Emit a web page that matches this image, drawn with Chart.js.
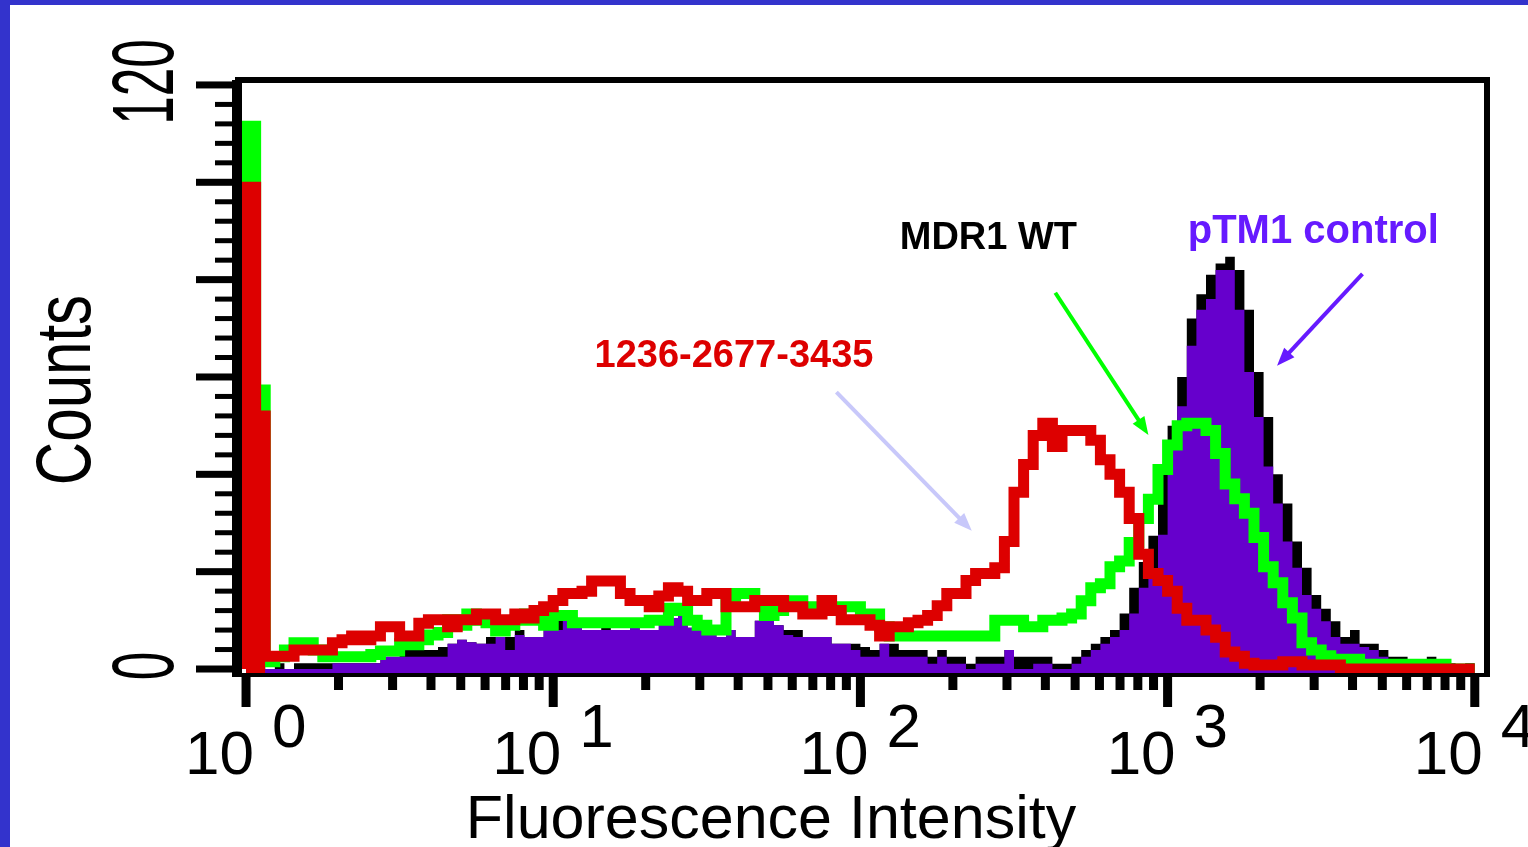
<!DOCTYPE html>
<html>
<head>
<meta charset="utf-8">
<title>Fluorescence Intensity histogram</title>
<script src="https://cdn.jsdelivr.net/npm/chart.js@4.4.1/dist/chart.umd.min.js"></script>
<style>
  html, body { margin: 0; padding: 0; background: #fff; }
  #wrap { position: relative; width: 1528px; height: 847px; overflow: hidden; }
</style>
</head>
<body>
<div id="wrap"><canvas id="chart" width="1528" height="847"></canvas></div>
<script>
// Histogram counts per channel (128 log channels, 32 per decade, 10^0 .. 10^4)
const redCounts = [99, 52, 2.6, 2.6, 2.6, 3.9, 3.9, 3.9, 3.9, 5.4, 6, 6.8, 6, 6.8, 8.7, 8.7,
  6.8, 6.8, 9.4, 10.1, 10.1, 8.7, 10.1, 10.1, 11.3, 11.3, 10.1, 10.1, 11.3, 10.5, 12, 12.8,
  14.1, 15.5, 15.5, 16, 18.1, 18.1, 18.1, 15.5, 14.1, 14.1, 12.8, 15, 16.7, 16, 14.1, 14.1,
  15.5, 15.5, 12.8, 12.8, 12.8, 14.1, 14.1, 14.1, 12.8, 12.8, 11.3, 11.3, 14.1, 12, 10.1, 10.1,
  10.1, 9, 6.8, 8.7, 8.7, 9.5, 10, 11, 13, 15.5, 15.5, 18.2, 19.6, 19.6, 20.8, 26.2,
  36.3, 42, 48, 50.5, 45.7, 49, 49, 49, 47, 43, 40, 36.3, 30.9, 23.6, 19.6, 18.2,
  16, 12.5, 10, 10, 8, 6.5, 3.5, 2.6, 1.2, 0.8, 0.8, 0.8, 1.5, 1.5, 0.8, 0.8,
  0.8, 0.8, 0, 0, 0, 0, 0, 0, 0, 0, 0, 0, 0, 0, 0, 0];

const greenCounts = [111.5, 57.3, 1.5, 2.5, 3.9, 5.4, 5.4, 3.9, 2.5, 2.5, 2.5, 2.5, 2.5, 3, 3.7, 3.7,
  5.2, 5, 6, 7, 7.5, 10.1, 9, 11.3, 10, 9.5, 7.8, 9, 10, 11.3, 10, 9,
  11, 11, 9.5, 9.5, 9.5, 9.5, 9.5, 9.5, 9.5, 9.5, 10, 10, 12.5, 12, 10, 9,
  8, 8, 14, 15.5, 15.5, 13, 11, 12, 14, 14, 12.8, 12, 12, 12, 12.8, 12.8,
  11.3, 11.3, 8.7, 6.8, 6.8, 6.8, 6.8, 6.8, 6.8, 6.8, 6.8, 6.8, 6.8, 6.8, 10, 10,
  10, 8.7, 8.7, 10, 10, 10.5, 11.3, 14, 16.7, 17.5, 21, 22.2, 26, 30.9, 34.9, 41,
  46, 50, 50.5, 50.5, 49, 44.3, 38, 35, 32, 27, 21, 17.7, 13.6, 10.5, 5.4, 3.9,
  2.7, 2, 2, 2, 1, 1, 1, 1, 1, 1, 1, 1, 1, 0, 0, 0];

const purpleCounts = [0, 0, 0, 0, 0, 0, 0, 0, 0, 1.2, 1.2, 1.2, 1.2, 1.2, 2.5, 2.5,
  2.5, 2.5, 2.5, 2.5, 2.5, 5.2, 6, 5.5, 5.2, 5.2, 6.6, 3.9, 7, 6.6, 6.6, 9.9,
  8, 9.9, 9, 8, 8, 8, 8, 8, 9, 8, 8, 9.9, 10.5, 11.3, 8.5, 8,
  7, 6.6, 8, 6.6, 6.6, 9.9, 9.9, 9, 7, 6.6, 6.6, 6.6, 6.6, 5.2, 5.2, 3.9,
  2.5, 2.5, 5.2, 2.5, 2.5, 2.5, 2.5, 1.1, 2.5, 1.1, 1.1, 0, 1.1, 1.1, 1.1, 3.9,
  0, 0, 1.1, 1.1, 0, 0, 1.1, 2.5, 3.9, 5.2, 6.6, 8, 11.4, 16.7, 20.7, 27.6,
  47, 54, 66.4, 73.8, 76, 82, 82, 73.8, 61, 51.8, 41.6, 34, 26.2, 20.8, 15.2, 12.4,
  9.8, 6.6, 5.2, 5.2, 4.5, 3.9, 2.5, 1.2, 1.2, 0, 0, 0, 0, 0, 0, 0];

const blackCounts = [0, 1.2, 0, 1.2, 0, 1.2, 1.2, 1.2, 1.2, 1.2, 1.2, 1.2, 1.2, 1.2, 2.5, 2.5,
  3.9, 3.9, 3.9, 3.9, 4.5, 5.2, 6, 5.5, 5.2, 6.6, 6.6, 6.6, 8, 6.6, 6.6, 9.9,
  9.9, 9.9, 9, 8, 8, 9.9, 8, 8, 9, 8, 8, 9.9, 10.5, 11.3, 8.5, 8,
  7, 6.6, 8, 6.6, 6.6, 9.9, 11.3, 9, 8, 8, 6.6, 6.6, 6.6, 5.2, 5.2, 5.2,
  4.5, 3.9, 5.2, 5.2, 3.9, 3.9, 3.9, 2.5, 3.9, 2.5, 2.5, 1.1, 2.5, 2.5, 2.5, 3.9,
  2.5, 2.5, 2.5, 2.5, 1.1, 1.1, 2.5, 3.9, 5.2, 6.6, 8, 11.4, 16.7, 22, 27.4, 40,
  50, 60, 72, 77, 81, 83.3, 84.7, 82, 73.8, 61, 51.8, 40, 34, 26.2, 20.8, 15.2,
  12.4, 9.8, 6.6, 8, 5.2, 5.2, 3.9, 2.5, 2.5, 1, 1, 2.5, 1, 1.2, 0.5, 1.2];

// the debris spike of the red sample is drawn solid
const spikeChannels = 2;

// Axis ticks
const decadeTicks = [1, 10, 100, 1000, 10000];
const decadeExponents = ['0', '1', '2', '3', '4'];
const minorMultipliers = [2, 3, 4, 5, 6, 7, 8, 9];
const yLabelTicks = [0, 120];

// Annotations, in data units (channel, count)
const annotationTexts = ['MDR1 WT', 'pTM1 control', '1236-2677-3435'];
const annotationAnchors = [[68.1, 86.3], [98.1, 87.5], [36.3, 62.1]];
const arrowStarts = [[61.5, 56.9], [84.3, 77.3], [116.3, 81.2]];
const arrowEnds = [[75.6, 28.4], [94.0, 48.1], [107.4, 62.3]];

// turn a channel histogram into stepped points (value held from channel i to i+1)
function steps(counts) {
  const pts = [{x: 0, y: 0}];
  counts.forEach((v, i) => pts.push({x: i, y: v}));
  pts.push({x: counts.length, y: counts[counts.length - 1]});
  return pts;
}

const FONT = '"Liberation Sans", Arial, sans-serif';

// draws background, frame, ticks, tick labels, titles and annotations
const decorations = {
  id: 'decorations',
  beforeDraw(chart) {
    const c = chart.ctx;
    c.save();
    c.fillStyle = '#ffffff';
    c.fillRect(0, 0, chart.width, chart.height);
    c.fillStyle = '#3333cc';
    c.fillRect(0, 0, 10, chart.height);
    c.fillRect(0, 0, chart.width, 5);
    c.restore();
  },
  afterDatasetsDraw(chart) {
    const c = chart.ctx;
    const a = chart.chartArea;
    const y = chart.scales.y;
    const x = chart.scales.x;
    const xf = chart.scales.xf;
    c.save();
    c.fillStyle = '#000';

    // frame and axis lines
    c.fillRect(a.left - 10, a.top - 3, 10, a.bottom - a.top + 7);
    c.fillRect(a.left - 7, a.top - 6, a.right - a.left + 13, 6);
    c.fillRect(a.right, a.top - 6, 6, a.bottom - a.top + 10);
    c.fillRect(a.left - 10, a.bottom, a.right - a.left + 16, 4);

    // y ticks
    for (let v = 0; v <= 120; v += 4) {
      const py = y.getPixelForValue(v);
      if (v % 20 === 0) c.fillRect(a.left - 46, py - 3.5, 36, 7);
      else c.fillRect(a.left - 27, py - 2.5, 17, 5);
    }

    // x ticks (log)
    decadeTicks.forEach((d, i) => {
      const px = xf.getPixelForValue(d);
      c.fillRect(px - 4.5, a.bottom + 4, 9, 30);
      if (i < decadeTicks.length - 1) {
        minorMultipliers.forEach(m => {
          const mx = xf.getPixelForValue(d * m);
          c.fillRect(mx - 4.5, a.bottom + 4, 9, 13);
        });
      }
    });

    // x tick labels: 10 with raised exponent
    c.font = '62px ' + FONT;
    c.textBaseline = 'alphabetic';
    decadeTicks.forEach((d, i) => {
      const px = xf.getPixelForValue(d);
      c.textAlign = 'right';
      c.fillText('10', px + 8, a.bottom + 101);
      c.textAlign = 'left';
      c.fillText(decadeExponents[i], px + 26, a.bottom + 74);
    });

    // y tick labels, rotated and condensed
    yLabelTicks.forEach(v => {
      const py = y.getPixelForValue(v);
      c.save();
      c.translate(a.left - 69, py - 3);
      c.rotate(-Math.PI / 2);
      c.scale(0.59, 1);
      c.font = '87px ' + FONT;
      c.textAlign = 'center';
      c.fillText(String(v), 0, 0);
      c.restore();
    });

    // axis titles
    c.save();
    c.translate(a.left - 152, (a.top + a.bottom) / 2 + 12);
    c.rotate(-Math.PI / 2);
    c.scale(0.78, 1);
    c.font = '77px ' + FONT;
    c.textAlign = 'center';
    c.fillText('Counts', 0, 0);
    c.restore();

    c.font = '61px ' + FONT;
    c.textAlign = 'center';
    c.fillText('Fluorescence Intensity', a.left + 529, a.bottom + 165);

    // annotation arrows
    const arrowCol = ['#c8c8fa', '#00ff00', '#661aff'];
    arrowStarts.forEach((s, i) => {
      const x1 = x.getPixelForValue(s[0]), y1 = y.getPixelForValue(s[1]);
      const x2 = x.getPixelForValue(arrowEnds[i][0]), y2 = y.getPixelForValue(arrowEnds[i][1]);
      const ang = Math.atan2(y2 - y1, x2 - x1);
      c.strokeStyle = arrowCol[i];
      c.fillStyle = arrowCol[i];
      c.lineWidth = 4;
      c.beginPath();
      c.moveTo(x1, y1);
      c.lineTo(x2 - 10 * Math.cos(ang), y2 - 10 * Math.sin(ang));
      c.stroke();
      c.beginPath();
      c.moveTo(x2, y2);
      c.lineTo(x2 - 18 * Math.cos(ang) + 7 * Math.sin(ang), y2 - 18 * Math.sin(ang) - 7 * Math.cos(ang));
      c.lineTo(x2 - 18 * Math.cos(ang) - 7 * Math.sin(ang), y2 - 18 * Math.sin(ang) + 7 * Math.cos(ang));
      c.closePath();
      c.fill();
    });

    // annotation texts
    const textColors = ['#000000', '#661aff', '#dd0000'];
    const textFonts = ['bold 38px ', 'bold 40px ', 'bold 38px '];
    c.textAlign = 'left';
    annotationTexts.forEach((t, i) => {
      c.font = textFonts[i] + FONT;
      c.fillStyle = textColors[i];
      c.fillText(t, x.getPixelForValue(annotationAnchors[i][0]), y.getPixelForValue(annotationAnchors[i][1]));
    });

    c.restore();
  }
};

const ctx = document.getElementById('chart').getContext('2d');
new Chart(ctx, {
  type: 'line',
  data: {
    datasets: [
      {
        label: '1236-2677-3435',
        data: steps(redCounts),
        borderColor: '#dd0000',
        borderWidth: 11,
        stepped: 'before',
        fill: false,
        order: 1
      },
      {
        label: 'spike',
        data: steps(redCounts.slice(0, spikeChannels)),
        borderColor: 'rgba(0,0,0,0)',
        borderWidth: 0,
        backgroundColor: '#dd0000',
        stepped: 'before',
        fill: 'start',
        order: 1.5
      },
      {
        label: 'MDR1 WT',
        data: steps(greenCounts),
        borderColor: '#00ff00',
        borderWidth: 11,
        stepped: 'before',
        fill: false,
        order: 2
      },
      {
        label: 'pTM1 control',
        data: steps(purpleCounts),
        borderColor: 'rgba(0,0,0,0)',
        borderWidth: 0,
        backgroundColor: '#6600cc',
        stepped: 'before',
        fill: 'start',
        order: 3
      },
      {
        label: 'outline',
        data: steps(blackCounts),
        borderColor: 'rgba(0,0,0,0)',
        borderWidth: 0,
        backgroundColor: '#000000',
        stepped: 'before',
        fill: 'start',
        order: 4
      }
    ]
  },
  options: {
    responsive: false,
    animation: false,
    devicePixelRatio: 1,
    events: [],
    layout: { padding: { left: 242, top: 83, right: 44, bottom: 174 } },
    elements: {
      point: { radius: 0 },
      line: { borderJoinStyle: 'miter', borderCapStyle: 'butt', tension: 0 }
    },
    plugins: {
      legend: { display: false },
      tooltip: { enabled: false },
      title: { display: false }
    },
    scales: {
      x: { type: 'linear', display: false, min: -0.42, max: 128.96 },
      xf: { type: 'logarithmic', display: false, min: 0.9702, max: 10715 },
      y: { type: 'linear', display: false, min: -0.82, max: 120.4 }
    }
  },
  plugins: [decorations]
});
</script>
</body>
</html>
